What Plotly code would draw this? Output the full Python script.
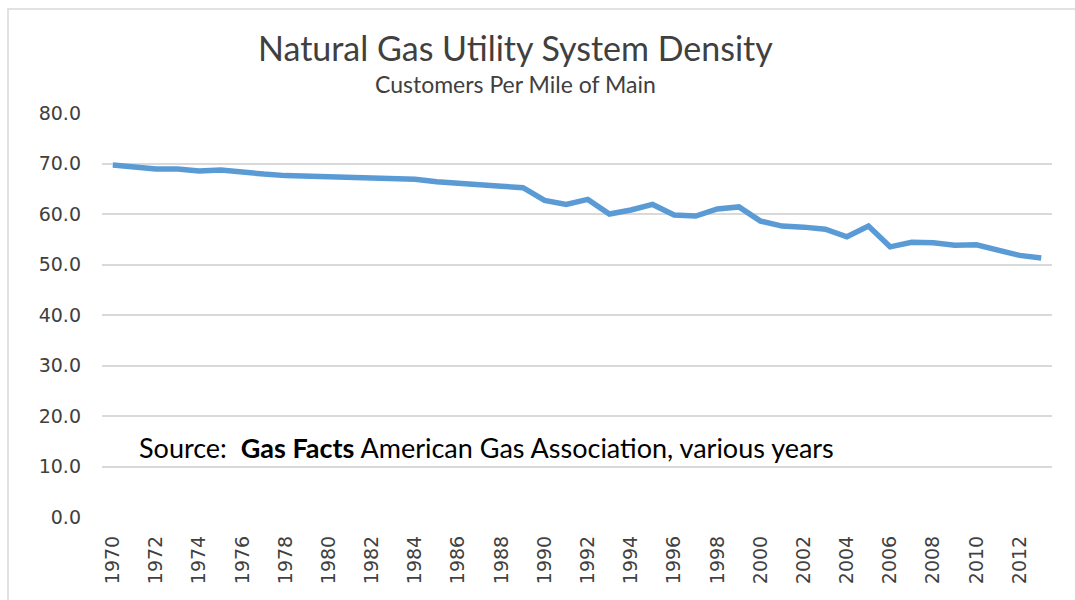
import plotly.graph_objects as go

years = list(range(1970, 2014))
density = [69.7, 69.3, 68.9, 68.9, 68.5, 68.7, 68.2, 67.9, 67.6, 67.5,
           67.3, 67.2, 67.2, 66.9, 66.9, 66.4, 66.0, 65.8, 65.5, 65.2,
           62.7, 61.9, 62.9, 60.0, 60.8, 61.9, 59.8, 59.6, 61.0, 61.4,
           58.6, 57.6, 57.4, 57.0, 55.5, 57.6, 53.5, 54.4, 54.3, 53.8,
           53.9, 52.8, 51.8, 51.3]
tick_years = [y for y in years if y % 2 == 0]
tick_labels = [str(y) for y in tick_years]
y_ticks = [0, 10, 20, 30, 40, 50, 60, 70, 80]
y_labels = [f"{v:.1f}" for v in y_ticks]

L, R, T, B = 102, 23, 113, 83
W, H = 1075, 600
pw, ph = W - L - R, H - T - B

def px(x):
    return (x - L) / pw

def py(y):
    return (H - B - y) / ph

fig = go.Figure()
fig.add_trace(go.Scatter(
    x=years, y=density, mode="lines",
    line=dict(color="#5B9BD5", width=5.5),
    hoverinfo="x+y",
))

fig.update_layout(
    width=W, height=H,
    margin=dict(l=L, r=R, t=T, b=B),
    paper_bgcolor="white", plot_bgcolor="white",
    showlegend=False,
    xaxis=dict(
        range=[1969.5, 2013.5],
        tickmode="array", tickvals=tick_years, ticktext=tick_labels,
        tickangle=-90,
        tickfont=dict(family="DejaVu Sans", size=19, color="#404040"),
        showgrid=False, zeroline=False, showline=False,
        ticks="", ticklabelstandoff=14,
    ),
    yaxis=dict(
        range=[0, 80],
        tickmode="array", tickvals=y_ticks, ticktext=y_labels,
        tickfont=dict(family="DejaVu Sans", size=19, color="#404040"),
        showgrid=True, gridcolor="#D9D9D9", gridwidth=1.5,
        zeroline=False, showline=False,
        ticks="", ticklabelstandoff=20,
    ),
    shapes=[dict(
        type="rect", xref="paper", yref="paper",
        x0=px(8), y0=py(640), x1=px(1100), y1=py(9),
        line=dict(color="#D9D9D9", width=1.5), fillcolor="rgba(0,0,0,0)",
        layer="below",
    )],
    annotations=[
        dict(text="Natural Gas Utility System Density", xref="paper", yref="paper",
             x=px(515), y=py(47), xanchor="center", yanchor="middle", showarrow=False,
             font=dict(family="Lato", size=34, color="#404040")),
        dict(text="Customers Per Mile of Main", xref="paper", yref="paper",
             x=px(515), y=py(84), xanchor="center", yanchor="middle", showarrow=False,
             font=dict(family="Lato", size=23, color="#404040")),
        dict(text="Source:  <b>Gas Facts</b> American Gas Association, various years",
             xref="paper", yref="paper",
             x=px(137), y=py(447), xanchor="left", yanchor="middle", showarrow=False,
             font=dict(family="Lato", size=27, color="#000000")),
    ],
)

fig.write_html("out.html", config={"displayModeBar": False},
               post_script="document.body.style.margin='0px';document.body.style.overflow='hidden';")
